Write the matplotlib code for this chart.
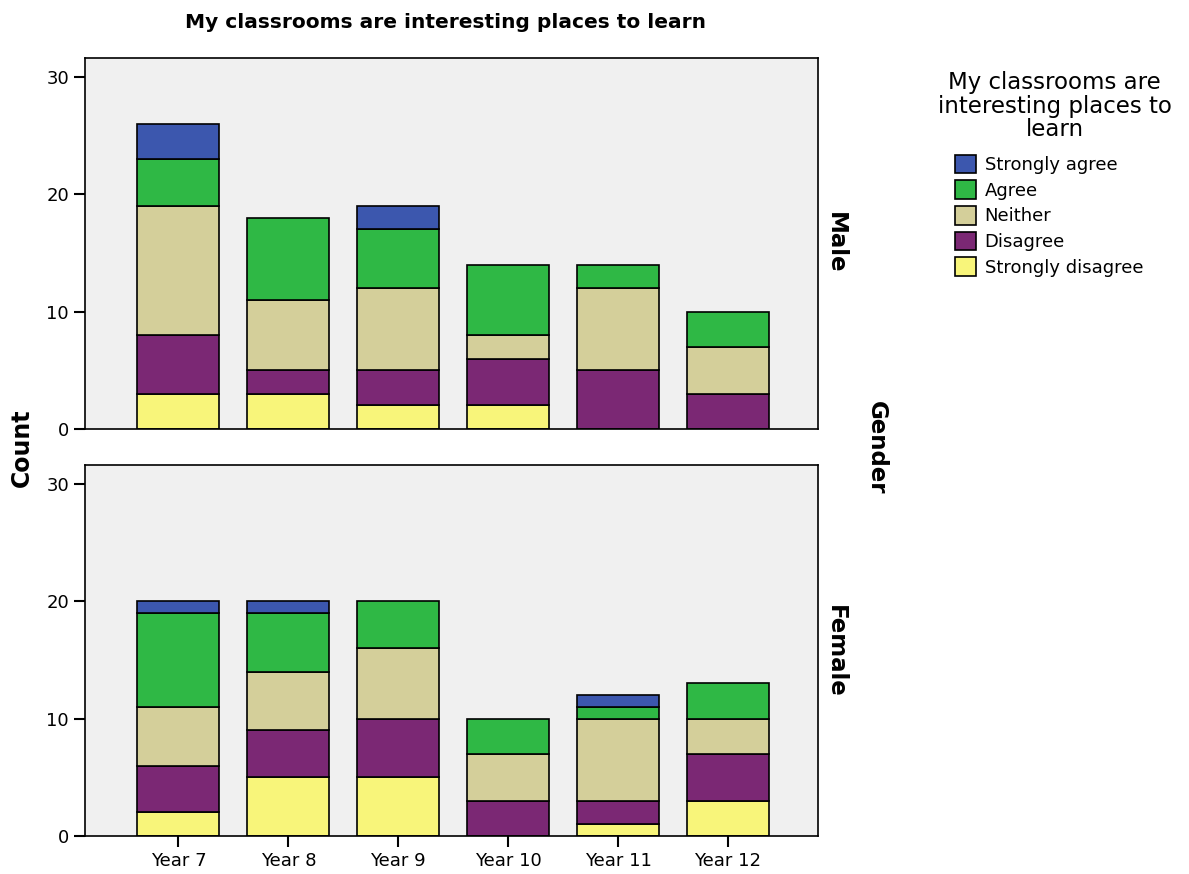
import numpy as np
import matplotlib.pyplot as plt
from matplotlib.patches import Patch

plt.rcParams['font.family'] = ['DejaVu Sans']

years = ["Year 7", "Year 8", "Year 9", "Year 10", "Year 11", "Year 12"]
categories = ["Strongly disagree", "Disagree", "Neither", "Agree", "Strongly agree"]
colors = ["#f8f57a", "#7b2874", "#d4cf9a", "#2fb845", "#3c57ae"]

# counts per year, bottom to top: SD, D, N, A, SA
male = {
    "Strongly disagree": [3, 3, 2, 2, 0, 0],
    "Disagree":          [5, 2, 3, 4, 5, 3],
    "Neither":           [11, 6, 7, 2, 7, 4],
    "Agree":             [4, 7, 5, 6, 2, 3],
    "Strongly agree":    [3, 0, 2, 0, 0, 0],
}
female = {
    "Strongly disagree": [2, 5, 5, 0, 1, 3],
    "Disagree":          [4, 4, 5, 3, 2, 4],
    "Neither":           [5, 5, 6, 4, 7, 3],
    "Agree":             [8, 5, 4, 3, 1, 3],
    "Strongly agree":    [1, 1, 0, 0, 1, 0],
}

fig = plt.figure(figsize=(11.89, 8.74), dpi=100)
ax_m = fig.add_axes([0.0715, 0.5092, 0.6165, 0.4245])
ax_f = fig.add_axes([0.0715, 0.0435, 0.6165, 0.4245])

x = np.arange(len(years))
for ax, data in [(ax_m, male), (ax_f, female)]:
    ax.set_facecolor("#f0f0f0")
    bottom = np.zeros(len(years))
    for cat, col in zip(categories, colors):
        vals = np.array(data[cat], dtype=float)
        mask = vals > 0
        ax.bar(x[mask], vals[mask], bottom=bottom[mask], width=0.745,
               color=col, edgecolor="black", linewidth=1.2)
        bottom += vals
    ax.set_xlim(-0.85, 5.82)
    ax.set_ylim(0, 31.6)
    ax.set_yticks([0, 10, 20, 30])
    ax.tick_params(axis="both", labelsize=13, length=8, width=1.5, direction="out")
    for s in ax.spines.values():
        s.set_linewidth(1.2)

ax_m.set_xticks([])
ax_f.set_xticks(x)
ax_f.set_xticklabels(years)

fig.text(0.375, 0.974, "My classrooms are interesting places to learn",
         ha="center", va="center", fontsize=14.5, fontweight="bold")
fig.text(0.018, 0.488, "Count", rotation=90, ha="center", va="center",
         fontsize=17, fontweight="bold")
fig.text(0.737, 0.488, "Gender", rotation=-90, ha="center", va="center",
         fontsize=16.5, fontweight="bold")
fig.text(0.703, 0.722, "Male", rotation=-90, ha="center", va="center",
         fontsize=16.5, fontweight="bold")
fig.text(0.703, 0.255, "Female", rotation=-90, ha="center", va="center",
         fontsize=16.5, fontweight="bold")

# legend title drawn separately so the gap below it can be set
fig.text(0.887, 0.8787, "My classrooms are\ninteresting places to\nlearn",
         ha="center", va="center", multialignment="center",
         fontsize=16.5, linespacing=1.05)

handles = [Patch(facecolor=c, edgecolor="black", linewidth=1.2, label=l)
           for l, c in zip(categories[::-1], colors[::-1])]
fig.legend(handles=handles, loc="upper left", bbox_to_anchor=(0.803, 0.823),
           frameon=False, fontsize=13, borderpad=0, borderaxespad=0,
           handlelength=1.2, handleheight=1.2, handletextpad=0.45,
           labelspacing=0.35)

fig.savefig("out.png", dpi=100)
